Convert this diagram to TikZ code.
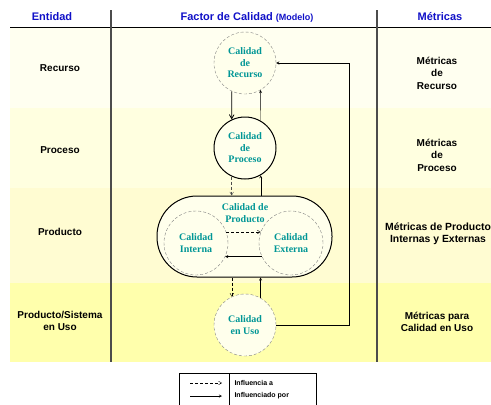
\documentclass[tikz,border=0pt]{standalone}
\usepackage{fontspec}
\setmainfont{Liberation Sans}
\newfontfamily\calfont{Liberation Serif}
\usepackage{tikz}
\usetikzlibrary{arrows}
\usetikzlibrary{shapes}
\usetikzlibrary{positioning}

\definecolor{cabecera}{RGB}{16,16,200}
\definecolor{calidadtxt}{RGB}{0,150,150}
\definecolor{fondoa}{RGB}{255,255,240}
\definecolor{fondob}{RGB}{255,255,224}
\definecolor{fondoc}{RGB}{255,252,210}
\definecolor{fondod}{RGB}{255,255,172}
\definecolor{relleno}{RGB}{255,255,236}

\begin{document}
\begin{tikzpicture}[x=1pt,y=-1pt,
  titulo/.style={font=\bfseries\fontsize{11}{13}\selectfont,text=cabecera},
  entidad/.style={font=\bfseries\fontsize{10}{12.5}\selectfont,align=center},
  calidad/.style={circle,minimum size=62pt,inner sep=0pt,fill=relleno,align=center,
    text=calidadtxt,font=\calfont\bfseries\fontsize{10}{11.5}\selectfont},
  borde/.style={draw=gray,densely dashed,thin},
  fijo/.style={draw=black,line width=1pt},
  influye/.style={densely dashed,-angle 60},
  influido/.style={-stealth}]
  \useasboundingbox (0,0) rectangle (491,405);
  \fill[white] (0,0) rectangle (491,405);
  \fill[fondoa] (10,27) rectangle (491,108);
  \fill[fondob] (10,108) rectangle (491,188);
  \fill[fondoc] (10,188) rectangle (491,283);
  \fill[fondod] (10,283) rectangle (491,362);
  \draw[line width=0.8pt] (10,27) -- (491,27);
  \draw[gray!60!black,line width=1.2pt] (111,10) -- (111,362);
  \draw[gray!60!black,line width=1.2pt] (377,10) -- (377,362);

  \node[titulo] (entidadtit) at (52,17) {Entidad};
  \node[titulo] (factortit) at (247,17) {Factor de Calidad {\fontsize{9}{11}\selectfont(Modelo)}};
  \node[titulo] (metricastit) at (440,17) {Métricas};

  \node[entidad] (recursoent) at (60,68) {Recurso};
  \node[entidad] (procesoent) at (60,150) {Proceso};
  \node[entidad] (productoent) at (60,232) {Producto};
  \node[entidad] (usoent) at (60,321) {Producto/Sistema\\en Uso};

  \node[entidad] (recursomet) at (437,73) {Métricas\\de\\Recurso};
  \node[entidad] (procesomet) at (437,155) {Métricas\\de\\Proceso};
  \node[entidad,font=\bfseries\fontsize{10.4}{12.5}\selectfont] (productomet) at (438,234) {Métricas de Producto\\Internas y Externas};
  \node[entidad] (usomet) at (437,322) {Métricas para\\Calidad en Uso};

  \node[fijo,fill=relleno,rounded corners=40pt,minimum width=175pt,minimum height=81pt] (productonode) at (244.5,236.5) {};
  \node[calidad,borde] (recursonode) at (245,63) {Calidad\\de\\Recurso};
  \node[calidad,fijo] (procesonode) at (245,148) {Calidad\\de\\Proceso};
  \node[calidad,borde,minimum size=64pt] (internanode) at (196,243) {Calidad\\Interna};
  \node[calidad,borde,minimum size=64pt] (externanode) at (291,243) {Calidad\\Externa};
  \node[calidad,fill=none,minimum size=0pt] (productotit) at (245,213) {Calidad de\\Producto};
  \node[calidad,borde] (usonode) at (245,325) {Calidad\\en Uso};

  \draw[-angle 60,line width=0.8pt] (recursonode.-115) -- (procesonode.115);
  \draw[influido] (procesonode.60) -- (recursonode.-60);
  \draw[influye,gray!60!black] (procesonode.-115) -- (procesonode.-115 |- productonode.north);
  \draw[influido] (productonode.north -| procesonode.-60) -- (procesonode.-60);
  \draw[influye] (productonode.south -| usonode.115) -- (usonode.115);
  \draw[influido] (usonode.60) -- (productonode.south -| usonode.60);
  \draw[influye] (internanode.20) -- (externanode.160);
  \draw[influido] (externanode.-155) -- (internanode.-25);
  \draw[influido] (usonode.east) -- ++(73,0) |- (recursonode.east);

  \draw[line width=0.6pt] (179,373) rectangle (316,410);
  \draw[line width=1pt] (179,373) rectangle (229,410);
  \coordinate (leyenda1a) at (190,383);
  \coordinate (leyenda1b) at (222,383);
  \coordinate (leyenda2a) at (190,396);
  \coordinate (leyenda2b) at (222,396);
  \draw[influye] (leyenda1a) -- (leyenda1b);
  \draw[influido] (leyenda2a) -- (leyenda2b);
  \node[anchor=west,font=\bfseries\fontsize{7}{8}\selectfont] (leyendatxt1) at (231,383) {Influencia a};
  \node[anchor=west,font=\bfseries\fontsize{7}{8}\selectfont] (leyendatxt2) at (231,396) {Influenciado por};
\end{tikzpicture}
\end{document}
